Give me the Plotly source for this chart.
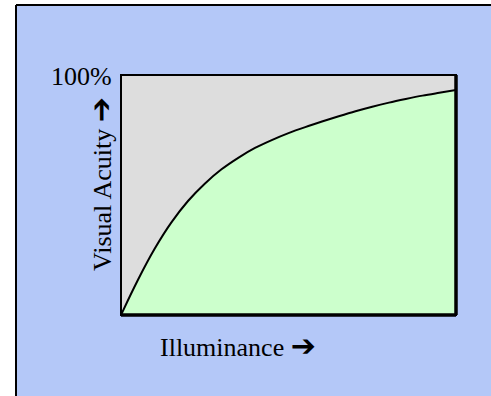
import plotly.graph_objects as go

# Data (normalised illuminance vs. visual acuity fraction)
illuminance = [0.0, 0.05, 0.10, 0.15, 0.20, 0.25, 0.30, 0.35, 0.40, 0.45, 0.50,
               0.55, 0.60, 0.65, 0.70, 0.75, 0.80, 0.85, 0.90, 0.95, 1.0]
acuity = [0.0, 0.145, 0.275, 0.385, 0.475, 0.547, 0.607, 0.655, 0.696, 0.729, 0.758,
          0.783, 0.806, 0.828, 0.849, 0.868, 0.885, 0.900, 0.914, 0.926, 0.9375]

x_label = "Illuminance"
y_label = "Visual Acuity"
top_label = "100%"

BLUE = "#B4C8F8"
GREY = "#DDDDDD"
GREEN = "#CCFFCC"
SERIF = "Liberation Serif"
ARROW = '<span style="font-family:DejaVu Sans;font-size:30px">\u2794</span>'

W, H = 491, 396
L, R, T, B = 121, 35, 75, 81
pw, ph = W - L - R, H - T - B

def px_x(p):
    return (p - L) / pw

def px_y(p):
    return (H - B - p) / ph

fig = go.Figure()
fig.add_trace(go.Scatter(
    x=illuminance, y=acuity, mode="lines",
    line=dict(color="black", width=2, shape="spline", smoothing=1.0),
    fill="tozeroy", fillcolor=GREEN, hoverinfo="skip", showlegend=False,
))

bx, by = px_x(16), px_y(5)
shapes = [
    dict(type="rect", xref="paper", yref="paper", x0=-1, x1=bx, y0=-1, y1=3,
         fillcolor="white", line=dict(width=0), layer="above"),
    dict(type="rect", xref="paper", yref="paper", x0=-1, x1=3, y0=by, y1=3,
         fillcolor="white", line=dict(width=0), layer="above"),
    dict(type="line", xref="paper", yref="paper", x0=bx, x1=bx, y0=-1, y1=by,
         line=dict(color="black", width=2), layer="above"),
    dict(type="line", xref="paper", yref="paper", x0=bx, x1=3, y0=by, y1=by,
         line=dict(color="black", width=2), layer="above"),
    dict(type="rect", xref="paper", yref="paper", x0=0, x1=1, y0=0, y1=1,
         line=dict(color="black", width=2), layer="above"),
    dict(type="line", xref="paper", yref="paper", x0=1, x1=1, y0=0, y1=1,
         line=dict(color="black", width=3.5), layer="above"),
    dict(type="line", xref="paper", yref="paper", x0=0, x1=1, y0=0, y1=0,
         line=dict(color="black", width=3.5), layer="above"),
]

annotations = [
    dict(text=top_label, x=px_x(81.5), y=px_y(76), xref="paper", yref="paper",
         showarrow=False, xanchor="center", yanchor="middle",
         font=dict(family=SERIF, size=26, color="black")),
    dict(text=x_label + " " + ARROW, x=px_x(238), y=px_y(345), xref="paper", yref="paper",
         showarrow=False, xanchor="center", yanchor="middle",
         font=dict(family=SERIF, size=26, color="black")),
    dict(text=y_label + " " + ARROW, x=px_x(100), y=px_y(184), xref="paper", yref="paper",
         showarrow=False, xanchor="center", yanchor="middle", textangle=-90,
         font=dict(family=SERIF, size=26, color="black")),
]

fig.update_layout(
    width=W, height=H,
    margin=dict(l=L, r=R, t=T, b=B, pad=0),
    paper_bgcolor=BLUE, plot_bgcolor=GREY,
    xaxis=dict(range=[0, 1], showgrid=False, zeroline=False, showticklabels=False,
               ticks="", showline=False, fixedrange=True),
    yaxis=dict(range=[0, 1], showgrid=False, zeroline=False, showticklabels=False,
               ticks="", showline=False, fixedrange=True),
    shapes=shapes, annotations=annotations, showlegend=False,
)

fig.write_html("out.html", config={"displayModeBar": False},
               post_script="document.body.style.margin='0';")
